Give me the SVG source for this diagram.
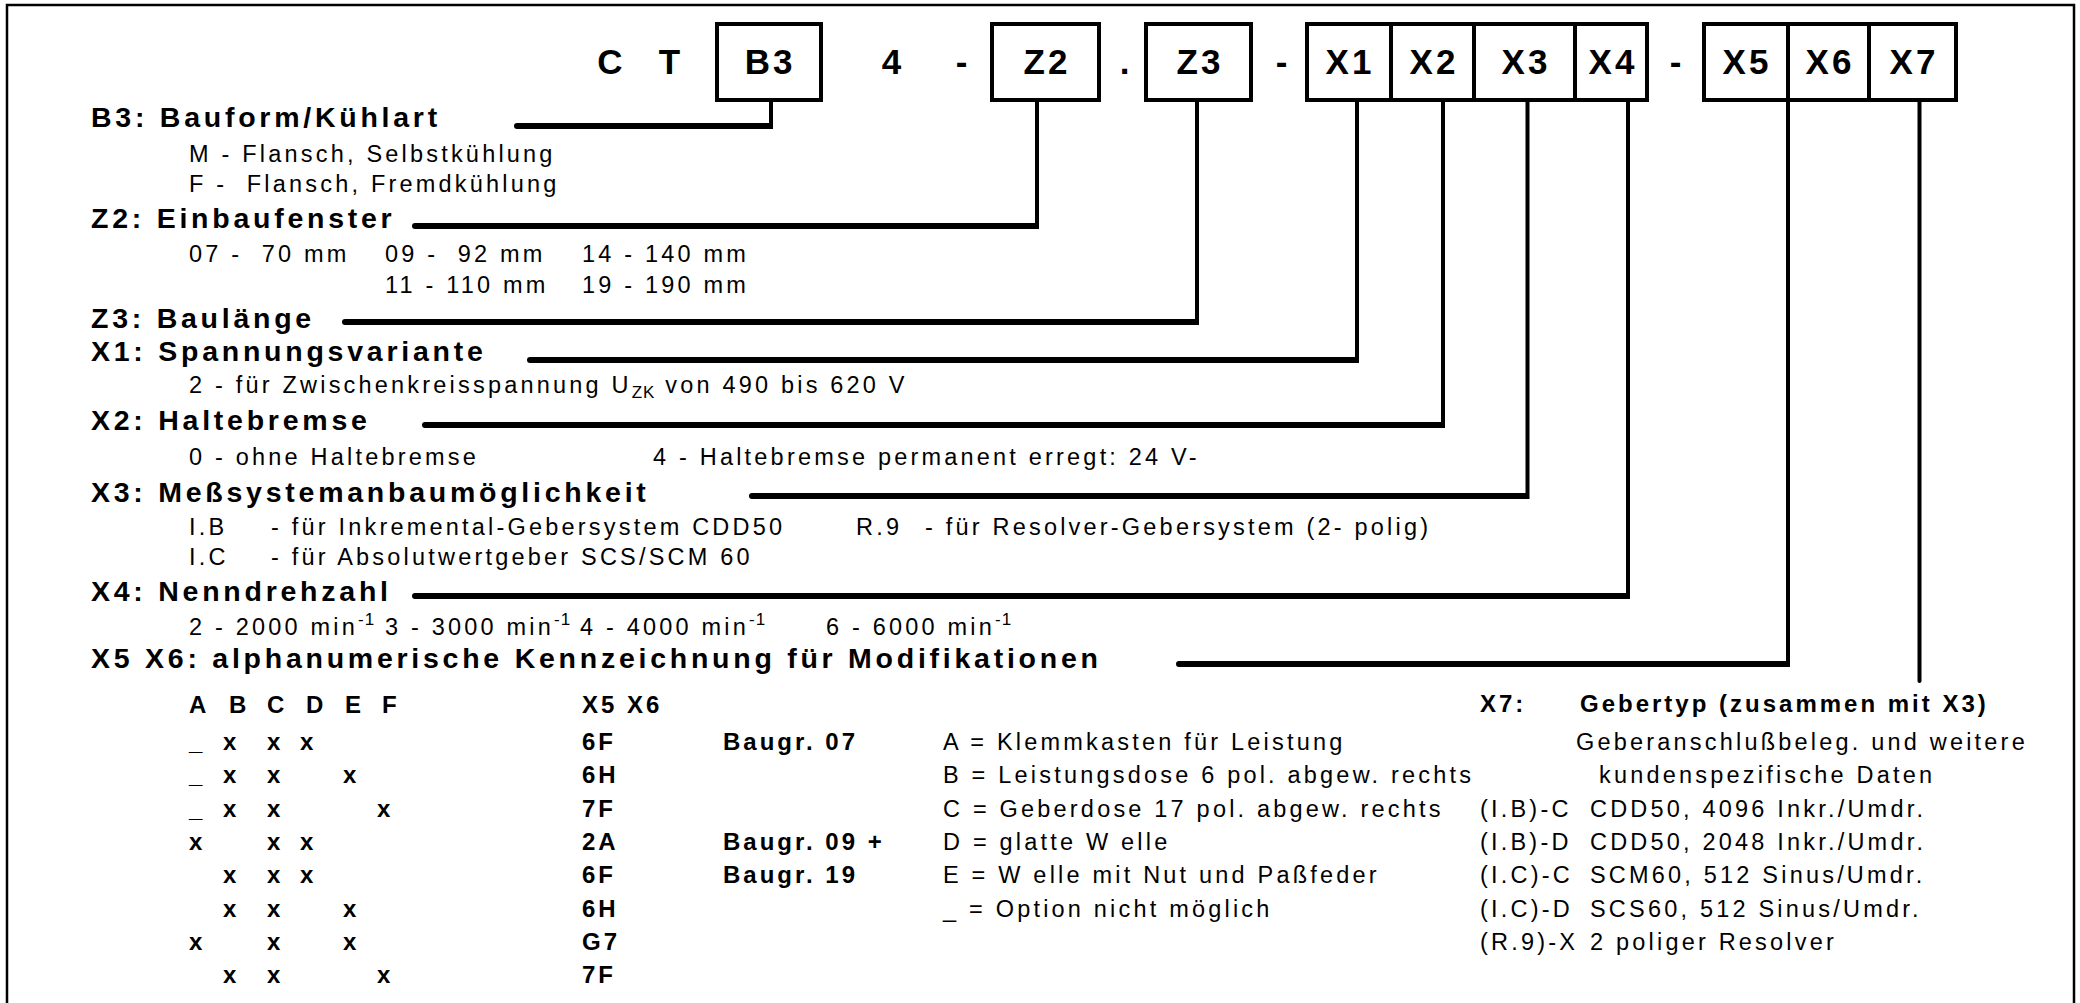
<svg xmlns="http://www.w3.org/2000/svg" width="2080" height="1003" viewBox="0 0 2080 1003">
<style>
text{font-family:"Liberation Sans",Arial,sans-serif;fill:#000}
.h{font-weight:bold;font-size:28.5px;letter-spacing:3.75px}
.b{font-size:23.5px;letter-spacing:3.2px}
.tb{font-weight:bold;font-size:24px;letter-spacing:3px}
.c{font-weight:bold;font-size:35px;letter-spacing:3px;text-anchor:middle}
.box{fill:#fff;stroke:#000;stroke-width:4}
.div{stroke:#000;stroke-width:4}
.con{fill:#000;stroke:none}
.sm{font-size:17px;letter-spacing:1px}
</style>
<rect width="2080" height="1003" fill="#fff"/>
<path d="M7,1010 V5 H2074 V1010" fill="none" stroke="#000" stroke-width="2.5"/>

<g id="code">
  <text class="c" x="611.5" y="73.5">C</text>
  <text class="c" x="671" y="73.5">T</text>
  <text class="c" x="893" y="73.5">4</text>
  <text class="c" x="963" y="73.5">-</text>
  <text class="c" x="1126" y="73.5">.</text>
  <text class="c" x="1283" y="73.5">-</text>
  <text class="c" x="1677" y="73.5">-</text>
</g>
<g id="node-B3"><rect class="box" x="717" y="24" width="104" height="76"/><text class="c" x="770" y="74">B3</text></g>
<g id="node-Z2"><rect class="box" x="992" y="24" width="107" height="76"/><text class="c" x="1047" y="74">Z2</text></g>
<g id="node-Z3"><rect class="box" x="1146" y="24" width="105" height="76"/><text class="c" x="1200" y="74">Z3</text></g>
<g id="node-X1-X4">
  <rect class="box" x="1307" y="24" width="340" height="76"/>
  <line class="div" x1="1391" y1="24" x2="1391" y2="100"/>
  <line class="div" x1="1474" y1="24" x2="1474" y2="100"/>
  <line class="div" x1="1575" y1="24" x2="1575" y2="100"/>
  <text class="c" x="1350" y="74">X1</text>
  <text class="c" x="1434" y="74">X2</text>
  <text class="c" x="1526" y="74">X3</text>
  <text class="c" x="1613" y="74">X4</text>
</g>
<g id="node-X5-X7">
  <rect class="box" x="1704" y="24" width="252" height="76"/>
  <line class="div" x1="1788" y1="24" x2="1788" y2="100"/>
  <line class="div" x1="1869" y1="24" x2="1869" y2="100"/>
  <text class="c" x="1747" y="74">X5</text>
  <text class="c" x="1830" y="74">X6</text>
  <text class="c" x="1914" y="74">X7</text>
</g>

<g id="connectors">
  <path class="con" d="M769,100 H773 V129 H517 A3,3 0 0 1 517,123 H769 Z"/>
  <path class="con" d="M1035,100 H1039 V229 H415 A3,3 0 0 1 415,223 H1035 Z"/>
  <path class="con" d="M1195,100 H1199 V325 H345 A3,3 0 0 1 345,319 H1195 Z"/>
  <path class="con" d="M1355,100 H1359 V363 H530 A3,3 0 0 1 530,357 H1355 Z"/>
  <path class="con" d="M1441,100 H1445 V428 H425 A3,3 0 0 1 425,422 H1441 Z"/>
  <path class="con" d="M1525.5,100 H1529.5 V499 H752 A3,3 0 0 1 752,493 H1525.5 Z"/>
  <path class="con" d="M1626,100 H1630 V599 H415 A3,3 0 0 1 415,593 H1626 Z"/>
  <path class="con" d="M1786,100 H1790 V667 H1179 A3,3 0 0 1 1179,661 H1786 Z"/>
  <path class="con" d="M1917.5,100 H1921.5 V681 A2,2 0 0 1 1917.5,681 Z"/>
</g>

<g id="B3">
  <text class="h" x="91" y="127">B3: Bauform/Kühlart</text>
  <text class="b" x="189" y="162">M - Flansch, Selbstkühlung</text>
  <text class="b" x="189" y="192" xml:space="preserve">F -  Flansch, Fremdkühlung</text>
</g>
<g id="Z2">
  <text class="h" x="91" y="227.5">Z2: Einbaufenster</text>
  <text class="b" x="189" y="261.5" xml:space="preserve">07 -  70 mm</text>
  <text class="b" x="385" y="261.5" xml:space="preserve">09 -  92 mm</text>
  <text class="b" x="582" y="261.5">14 - 140 mm</text>
  <text class="b" x="385" y="293">11 - 110 mm</text>
  <text class="b" x="582" y="293">19 - 190 mm</text>
</g>
<g id="Z3">
  <text class="h" x="91" y="328">Z3: Baulänge</text>
</g>
<g id="X1">
  <text class="h" x="91" y="361">X1: Spannungsvariante</text>
  <text class="b" x="189" y="393">2 - für Zwischenkreisspannung U<tspan class="sm" dy="5">ZK</tspan><tspan dy="-5"> von 490 bis 620 V</tspan></text>
</g>
<g id="X2">
  <text class="h" x="91" y="430">X2: Haltebremse</text>
  <text class="b" x="189" y="465">0 - ohne Haltebremse</text>
  <text class="b" x="653" y="465">4 - Haltebremse permanent erregt: 24 V-</text>
</g>
<g id="X3">
  <text class="h" x="91" y="501.5">X3: Meßsystemanbaumöglichkeit</text>
  <text class="b" x="189" y="535">I.B</text>
  <text class="b" x="271" y="535">- für Inkremental-Gebersystem CDD50</text>
  <text class="b" x="856" y="535">R.9</text>
  <text class="b" x="925" y="535">- für Resolver-Gebersystem (2- polig)</text>
  <text class="b" x="189" y="565">I.C</text>
  <text class="b" x="271" y="565">- für Absolutwertgeber SCS/SCM 60</text>
</g>
<g id="X4">
  <text class="h" x="91" y="601">X4: Nenndrehzahl</text>
  <text class="b" x="189" y="635">2 - 2000 min<tspan class="sm" dy="-10">-1</tspan></text>
  <text class="b" x="385" y="635">3 - 3000 min<tspan class="sm" dy="-10">-1</tspan></text>
  <text class="b" x="580" y="635">4 - 4000 min<tspan class="sm" dy="-10">-1</tspan></text>
  <text class="b" x="826" y="635">6 - 6000 min<tspan class="sm" dy="-10">-1</tspan></text>
</g>
<g id="X5X6">
  <text class="h" x="91" y="668">X5 X6: alphanumerische Kennzeichnung für Modifikationen</text>
  <text class="tb" y="712.5"><tspan x="189">A</tspan><tspan x="229">B</tspan><tspan x="267">C</tspan><tspan x="306">D</tspan><tspan x="345">E</tspan><tspan x="382">F</tspan></text>
  <text class="tb" x="582" y="712.5">X5 X6</text>
  <text class="tb" y="750"><tspan x="189">_</tspan><tspan x="223">x</tspan><tspan x="267">x</tspan><tspan x="300">x</tspan></text>
  <text class="tb" y="783.3"><tspan x="189">_</tspan><tspan x="223">x</tspan><tspan x="267">x</tspan><tspan x="343">x</tspan></text>
  <text class="tb" y="816.6"><tspan x="189">_</tspan><tspan x="223">x</tspan><tspan x="267">x</tspan><tspan x="377">x</tspan></text>
  <text class="tb" y="849.9"><tspan x="189">x</tspan><tspan x="267">x</tspan><tspan x="300">x</tspan></text>
  <text class="tb" y="883.2"><tspan x="223">x</tspan><tspan x="267">x</tspan><tspan x="300">x</tspan></text>
  <text class="tb" y="916.5"><tspan x="223">x</tspan><tspan x="267">x</tspan><tspan x="343">x</tspan></text>
  <text class="tb" y="949.8"><tspan x="189">x</tspan><tspan x="267">x</tspan><tspan x="343">x</tspan></text>
  <text class="tb" y="983.1"><tspan x="223">x</tspan><tspan x="267">x</tspan><tspan x="377">x</tspan></text>
  <text class="tb" x="582" y="750">6F</text>
  <text class="tb" x="582" y="783.3">6H</text>
  <text class="tb" x="582" y="816.6">7F</text>
  <text class="tb" x="582" y="849.9">2A</text>
  <text class="tb" x="582" y="883.2">6F</text>
  <text class="tb" x="582" y="916.5">6H</text>
  <text class="tb" x="582" y="949.8">G7</text>
  <text class="tb" x="582" y="983.1">7F</text>
  <text class="tb" x="723" y="750">Baugr. 07</text>
  <text class="tb" x="723" y="849.9">Baugr. 09 +</text>
  <text class="tb" x="723" y="883.2">Baugr. 19</text>
  <text class="b" x="943" y="750">A = Klemmkasten für Leistung</text>
  <text class="b" x="943" y="783.3">B = Leistungsdose 6 pol. abgew. rechts</text>
  <text class="b" x="943" y="816.6">C = Geberdose 17 pol. abgew. rechts</text>
  <text class="b" x="943" y="849.9">D = glatte W elle</text>
  <text class="b" x="943" y="883.2">E = W elle mit Nut und Paßfeder</text>
  <text class="b" x="943" y="916.5">_ = Option nicht möglich</text>
</g>
<g id="X7">
  <text class="tb" x="1480" y="711.7">X7:</text>
  <text class="tb" x="1580" y="711.7">Gebertyp (zusammen mit X3)</text>
  <text class="b" x="1576" y="750">Geberanschlußbeleg. und weitere</text>
  <text class="b" x="1599" y="783.3">kundenspezifische Daten</text>
  <text class="b" x="1480" y="816.6">(I.B)-C</text>
  <text class="b" x="1590" y="816.6">CDD50, 4096 Inkr./Umdr.</text>
  <text class="b" x="1480" y="849.9">(I.B)-D</text>
  <text class="b" x="1590" y="849.9">CDD50, 2048 Inkr./Umdr.</text>
  <text class="b" x="1480" y="883.2">(I.C)-C</text>
  <text class="b" x="1590" y="883.2">SCM60, 512 Sinus/Umdr.</text>
  <text class="b" x="1480" y="916.5">(I.C)-D</text>
  <text class="b" x="1590" y="916.5">SCS60, 512 Sinus/Umdr.</text>
  <text class="b" x="1480" y="949.8">(R.9)-X</text>
  <text class="b" x="1590" y="949.8">2 poliger Resolver</text>
</g>
</svg>
